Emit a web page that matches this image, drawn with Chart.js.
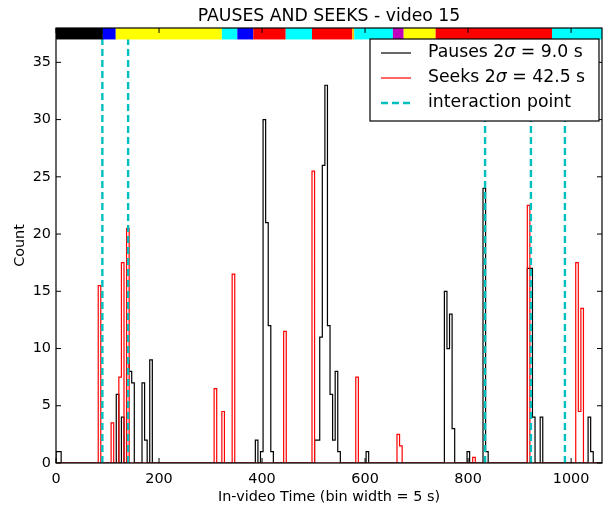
<!DOCTYPE html>
<html lang="en">
<head>
<meta charset="UTF-8">
<title>Pauses and seeks - video 15</title>
<style>
  body { margin: 0; background: #fff; }
  #chart { display: block; }
</style>
</head>
<body>
<canvas id="chart" width="605" height="505"></canvas>
<script src="https://cdn.jsdelivr.net/npm/chart.js"></script>
<script>
// bin width of both histograms (seconds)
const binWidth = 5;
const videoEnd = 1060;

// pauses histogram: left edge of each non-empty bin and its count
const pauseStart = [0, 5, 117, 127, 137, 142, 147, 167, 172, 182,
    387, 397, 402, 407, 412, 417,
    502, 507, 512, 517, 522, 527, 532, 537, 542, 547,
    602, 754, 759, 764, 769, 798, 829, 834,
    915, 920, 925, 940, 1033, 1038];
const pauseCount = [1, 1, 6, 4, 9, 8, 7, 7, 2, 9,
    2, 1, 30, 21, 12, 1,
    2, 2, 11, 26, 33, 12, 6, 2, 8, 1,
    1, 15, 10, 13, 3, 1, 24, 1,
    17, 17, 4, 4, 4, 1];

// seeks histogram
const seekStart = [82, 107, 122, 127, 137, 307, 322, 342, 442, 497, 582, 662, 667, 809, 915, 1009, 1014, 1019];
const seekCount = [15.5, 3.5, 7.5, 17.5, 20.5, 6.5, 4.5, 16.5, 11.5, 25.5, 7.5, 2.5, 1.5, 0.5, 22.5, 17.5, 4.5, 13.5];

// interaction points (seconds)
const interactionPoints = [90, 140, 833, 922, 988];

// colour strip on top of the plot: segment edges and colours
const stripEdges = [0, 91, 116, 322, 352, 383, 446, 497, 575, 579, 654, 675, 737, 963, 1060];
const stripColors = ['#000000', '#0000ff', '#ffff00', '#00ffff', '#0000ff', '#ff0000', '#00ffff',
    '#ff0000', '#ffbf00', '#00ffff', '#bf00bf', '#ffff00', '#ff0000', '#00ffff'];

const legendLabels = [
    ['Pauses 2', 'σ', ' = 9.0 s'],
    ['Seeks 2', 'σ', ' = 42.5 s'],
    ['interaction point', '', '']
];

const FONT = 'DejaVu Sans';

// outline of a step histogram
function stepPoints(starts, counts) {
    let pts = [{ x: 0, y: 0 }];
    let end = 0;
    for (let i = 0; i < starts.length; i++) {
        if (starts[i] > end) pts.push({ x: end, y: 0 });
        pts.push({ x: starts[i], y: counts[i] });
        end = starts[i] + binWidth;
    }
    pts.push({ x: end, y: 0 });
    pts.push({ x: videoEnd, y: 0 });
    return pts;
}

let datasets = [];
interactionPoints.forEach(function (t) {
    datasets.push({
        data: [{ x: t, y: 0 }, { x: t, y: 38 }],
        borderColor: '#00bfbf',
        borderWidth: 2.4,
        borderDash: [7, 4],
        pointRadius: 0,
        order: 0
    });
});
datasets.push({
    label: 'Seeks',
    data: stepPoints(seekStart, seekCount),
    borderColor: '#ff0000',
    borderWidth: 1.2,
    stepped: true,
    pointRadius: 0,
    order: 1
});
datasets.push({
    label: 'Pauses',
    data: stepPoints(pauseStart, pauseCount),
    borderColor: '#000000',
    borderWidth: 1.2,
    stepped: true,
    pointRadius: 0,
    order: 2
});

// title, colour strip, frame, inner ticks and legend
const decorations = {
    id: 'decorations',
    afterDatasetsDraw(chart) {
        const { ctx, chartArea: a, scales } = chart;
        const x = scales.x, y = scales.y;
        ctx.save();

        // colour strip between 37 and 38
        const yTop = y.getPixelForValue(38), yBot = y.getPixelForValue(37);
        for (let i = 0; i < stripColors.length; i++) {
            const x0 = x.getPixelForValue(stripEdges[i]);
            const x1 = x.getPixelForValue(stripEdges[i + 1]);
            ctx.fillStyle = stripColors[i];
            ctx.fillRect(x0, yTop, x1 - x0, yBot - yTop);
        }

        // frame
        ctx.strokeStyle = '#000';
        ctx.lineWidth = 1.2;
        ctx.strokeRect(a.left, a.top, a.right - a.left, a.bottom - a.top);

        // ticks pointing inwards on all four sides
        ctx.lineWidth = 1;
        ctx.beginPath();
        x.ticks.forEach(function (tk) {
            const px = x.getPixelForValue(tk.value);
            ctx.moveTo(px, a.bottom); ctx.lineTo(px, a.bottom - 5);
            ctx.moveTo(px, a.top); ctx.lineTo(px, a.top + 5);
        });
        y.ticks.forEach(function (tk) {
            const py = y.getPixelForValue(tk.value);
            ctx.moveTo(a.left, py); ctx.lineTo(a.left + 5, py);
            ctx.moveTo(a.right, py); ctx.lineTo(a.right - 5, py);
        });
        ctx.stroke();

        // legend
        const lx = 370, ly = 39, lw = 229, lh = 82;
        ctx.fillStyle = '#fff';
        ctx.fillRect(lx, ly, lw, lh);
        ctx.strokeStyle = '#000';
        ctx.lineWidth = 1.2;
        ctx.strokeRect(lx, ly, lw, lh);
        const rowY = [53, 78, 103];
        const styles = [
            { color: '#000000', width: 1.2, dash: [] },
            { color: '#ff0000', width: 1.2, dash: [] },
            { color: '#00bfbf', width: 2.4, dash: [7, 4] }
        ];
        for (let i = 0; i < 3; i++) {
            ctx.beginPath();
            ctx.strokeStyle = styles[i].color;
            ctx.lineWidth = styles[i].width;
            ctx.setLineDash(styles[i].dash);
            ctx.moveTo(381, rowY[i]);
            ctx.lineTo(411, rowY[i]);
            ctx.stroke();
            ctx.setLineDash([]);

            ctx.fillStyle = '#000';
            ctx.textBaseline = 'middle';
            ctx.textAlign = 'left';
            let tx = 428;
            const parts = legendLabels[i];
            ctx.font = '17.3px "' + FONT + '"';
            ctx.fillText(parts[0], tx, rowY[i]);
            tx += ctx.measureText(parts[0]).width;
            ctx.font = 'italic 17.3px "' + FONT + '"';
            ctx.fillText(parts[1], tx, rowY[i]);
            tx += ctx.measureText(parts[1]).width;
            ctx.font = '17.3px "' + FONT + '"';
            ctx.fillText(parts[2], tx, rowY[i]);
        }

        // title
        ctx.fillStyle = '#000';
        ctx.font = '17.3px "' + FONT + '"';
        ctx.textAlign = 'center';
        ctx.textBaseline = 'alphabetic';
        ctx.fillText('PAUSES AND SEEKS - video 15', (a.left + a.right) / 2, 21);
        ctx.restore();
    }
};

const tickFont = { family: FONT, size: 14.4 };

new Chart(document.getElementById('chart'), {
    type: 'line',
    data: { datasets: datasets },
    options: {
        responsive: false,
        animation: false,
        events: [],
        layout: { padding: { top: 28, right: 3, left: 0, bottom: 0 } },
        plugins: {
            legend: { display: false },
            title: { display: false },
            tooltip: { enabled: false }
        },
        scales: {
            x: {
                type: 'linear',
                min: 0,
                max: videoEnd,
                grid: { display: false, drawTicks: false },
                border: { display: false },
                ticks: {
                    stepSize: 200, includeBounds: false, padding: 8, color: '#000', font: tickFont, maxRotation: 0,
                    callback: function (v) { return String(v); }
                },
                title: { display: true, text: 'In-video Time (bin width = 5 s)', color: '#000', font: tickFont, padding: { top: 0, bottom: -1 } },
                afterFit: function (s) { s.height = 42; }
            },
            y: {
                type: 'linear',
                min: 0,
                max: 38,
                grid: { display: false, drawTicks: false },
                border: { display: false },
                ticks: {
                    stepSize: 5, includeBounds: false, padding: 5, color: '#000', font: tickFont,
                    callback: function (v) { return String(v); }
                },
                title: { display: true, text: 'Count', color: '#000', font: tickFont, padding: { top: 12, bottom: 0 } },
                afterFit: function (s) { s.width = 56; }
            }
        }
    },
    plugins: [decorations]
});
</script>
</body>
</html>
